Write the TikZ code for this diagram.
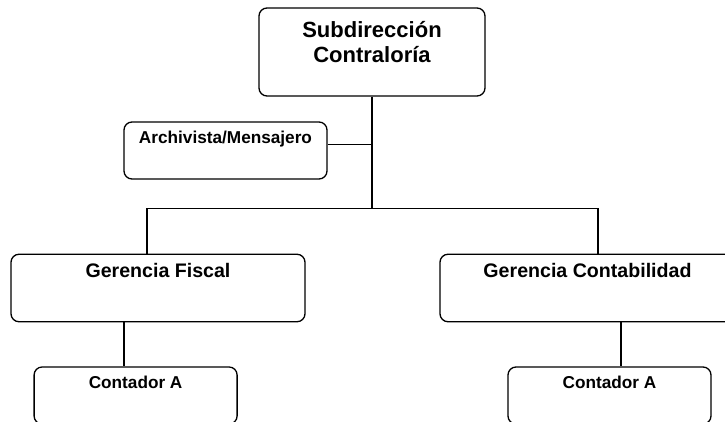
\documentclass[tikz,border=0pt]{standalone}
\usepackage{fontspec}
\setmainfont{Liberation Sans}
\tikzset{
	unit/.style={draw, line width=1.3pt, rounded corners=8pt, inner sep=0pt},
	caption/.style={font=\bfseries#1, align=center, anchor=north, inner sep=0pt},
	link/.style={line width=1.3pt}
}
\newcommand{\sizetop}{\fontsize{22}{25.3}\selectfont}
\newcommand{\sizemgr}{\fontsize{19.6}{22}\selectfont}
\newcommand{\sizestaff}{\fontsize{17.2}{20}\selectfont}

\begin{document}
\begin{tikzpicture}[x=1pt, y=-1pt]
		\useasboundingbox (0,0) rectangle (725,422);
		\clip (0,0) rectangle (725,422);

		\node[unit, minimum width=226, minimum height=88,
			label={[caption=\sizetop, yshift=-13.5pt]north:Subdirección\\ Contraloría}] (sub) at (372, 52) {};

		\node[unit, minimum width=203, minimum height=57,
			label={[caption=\sizestaff, yshift=-9.5pt]north:Archivista/Mensajero}] (arch) at (225.5, 150.5) {};

		\node[unit, minimum width=294, minimum height=67.5,
			label={[caption=\sizemgr, yshift=-9.5pt]north:Gerencia Fiscal}] (fisc) at (158, 288) {};
		\node[unit, minimum width=295, minimum height=67.5,
			label={[caption=\sizemgr, yshift=-9.5pt]north:Gerencia Contabilidad}] (cont) at (587.5, 288) {};

		\node[unit, minimum width=203, minimum height=57,
			label={[caption=\sizestaff, yshift=-9.5pt]north:Contador A}] (ca1) at (135.6, 395.5) {};
		\node[unit, minimum width=203, minimum height=57,
			label={[caption=\sizestaff, yshift=-9.5pt]north:Contador A}] (ca2) at (609.5, 395.5) {};

		\coordinate (bus) at (372, 208.3);
		\coordinate (busl) at (147, 208.3);
		\coordinate (busr) at (598, 208.3);

		\draw[link] (sub.south) -- (bus);
		\draw[link] ([yshift=6pt]arch.east) -- ([yshift=6pt]arch.east -| bus);
		\draw[link] (busl |- fisc.north) -- (busl) -- (busr) -- (busr |- cont.north);

		\draw[link] ([xshift=-34pt]fisc.south) -- ([xshift=-34pt]fisc.south |- ca1.north);
		\draw[link] ([xshift=33.5pt]cont.south) -- ([xshift=33.5pt]cont.south |- ca2.north);
	\end{tikzpicture}
\end{document}
